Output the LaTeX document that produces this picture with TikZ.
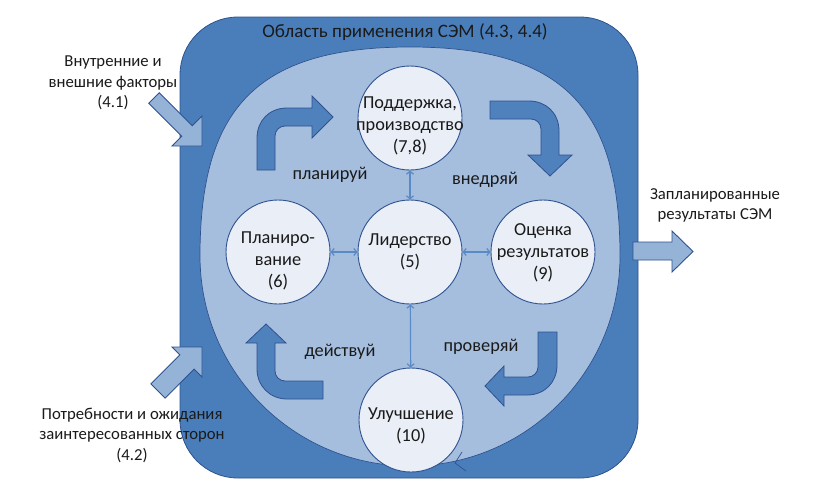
\documentclass[tikz,border=0pt]{standalone}
\usepackage{fontspec}
\setmainfont{Carlito}
\usetikzlibrary{arrows.meta}
\definecolor{boxblue}{HTML}{4A7EBB}
\definecolor{lineblue}{HTML}{2F528F}
\definecolor{innerblue}{HTML}{A5BEDE}
\definecolor{circfill}{HTML}{E9EEF7}
\definecolor{bentblue}{HTML}{4F81BD}
\definecolor{inblue}{HTML}{95B3D7}
\definecolor{dblblue}{HTML}{5A8AC6}
\definecolor{txt}{HTML}{1A1A1A}
\tikzset{
  outerbox/.style={fill=boxblue, draw=lineblue, line width=0.8pt},
  innerreg/.style={fill=innerblue, draw=lineblue, line width=0.7pt},
  bentarrow/.style={fill=bentblue, draw=lineblue, line width=0.8pt},
  inarrow/.style={fill=inblue, draw=lineblue, line width=0.9pt},
  stage/.style={circle, minimum size=104pt, inner sep=0pt, fill=circfill, draw=lineblue, line width=0.9pt},
  ctext/.style={font=\fontsize{18.3}{22}\selectfont, text=txt, align=center, inner sep=0pt},
  lbl/.style={font=\fontsize{16.7}{20.5}\selectfont, text=txt, align=center, inner sep=0pt},
  steplbl/.style={font=\fontsize{18.3}{22}\selectfont, text=txt, align=center, inner sep=0pt},
  titlelbl/.style={font=\fontsize{19}{22}\selectfont, text=txt, align=center, inner sep=0pt},
  dbl/.style={draw=dblblue, line width=1.2pt, {Straight Barb[length=3pt,width=7pt]}-{Straight Barb[length=3pt,width=7pt]}}
}
\begin{document}
\begin{tikzpicture}[x=1pt,y=-1pt]
\useasboundingbox (0,0) rectangle (826,493);
\fill[white] (0,0) rectangle (826,493);
% outer rounded box
\draw[outerbox, rounded corners=58pt] (180,17) rectangle (638,478);
% inner light region
\draw[innerreg] (200,256) .. controls (200,110) and (255,47) .. (410,47)
  .. controls (565,47) and (620,110) .. (620,256)
  arc[start angle=0, end angle=180, radius=210] -- cycle;
\draw[lineblue, line width=0.7pt] (462,452) -- (455,463) -- (466,471);
% input arrows
\draw[inarrow] (148.7,103.3) -- (159.3,92.7) -- (192.3,125.7) -- (202,116) -- (202,146) -- (172,146) -- (181.7,136.3) -- cycle;
\draw[inarrow] (150.9,383.9) -- (179.9,354.9) -- (172,347) -- (202,347) -- (202,377) -- (194.1,369.1) -- (165.1,398.1) -- cycle;
% output arrow
\draw[inarrow] (633,242) -- (672,242) -- (672,231) -- (693,251.5) -- (672,272) -- (672,260) -- (633,260) -- cycle;
% bent arrows
\draw[bentarrow] (257,170) -- (257,138) .. controls (257,121) and (269,108) .. (287,108) -- (312,108) -- (312,96) -- (333,117) -- (312,138) -- (312,126) -- (285,126) .. controls (279.5,126) and (275,130.5) .. (275,136) -- (275,170) -- cycle;
\draw[bentarrow] (490,101) -- (529,101) .. controls (546,101) and (559,113) .. (559,131) -- (559,155) -- (572,155) -- (550,176) -- (528,155) -- (541,155) -- (541,129) .. controls (541,123.5) and (536.5,119) .. (531,119) -- (490,119) -- cycle;
\draw[bentarrow] (538,332) -- (557,332) -- (557,365) .. controls (557,382) and (545,395) .. (527,395) -- (504,395) -- (504,406) -- (485,386) -- (504,366) -- (504,377) -- (528,377) .. controls (533.5,377) and (538,372.5) .. (538,367) -- cycle;
\draw[bentarrow] (323,399) -- (287,399) .. controls (270,399) and (257,386) .. (257,369) -- (257,343) -- (246,343) -- (266,324) -- (286,343) -- (275,343) -- (275,371) .. controls (275,376.5) and (279.5,381) .. (285,381) -- (323,381) -- cycle;
% stage circles
\node[stage] (sup) at (410,118) {};
\node[stage] (plan) at (278,252) {};
\node[stage] (lead) at (410,252) {};
\node[stage] (eval) at (543,252) {};
\node[stage] (impr) at (411,420) {};
% double arrows
\draw[dbl] (sup) -- (lead);
\draw[dbl] (plan) -- (lead);
\draw[dbl] (lead) -- (eval);
\draw[dbl] (lead) -- (impr);
% circle texts
\node[ctext] (supt) at (410,125.5) {Поддержка,\\производство\\(7,8)};
\node[ctext] (plant) at (278,261) {Планиро-\\вание\\(6)};
\node[ctext] (leadt) at (410,252) {Лидерство\\(5)};
\node[ctext] (evalt) at (543,252.5) {Оценка\\результатов\\(9)};
\node[ctext] (imprt) at (411,426) {Улучшение\\(10)};
% labels
\node[titlelbl] (title) at (405,32) {Область применения СЭМ (4.3, 4.4)};
\node[steplbl] (plnl) at (330,175) {планируй};
\node[steplbl] (impl) at (485,180) {внедряй};
\node[steplbl] (actl) at (340,352) {действуй};
\node[steplbl] (chkl) at (481,347) {проверяй};
\node[lbl] (ext1) at (113,83) {Внутренние и\\внешние факторы\\(4.1)};
\node[lbl] (ext2) at (132,435) {Потребности и ожидания\\заинтересованных сторон\\(4.2)};
\node[lbl] (outl) at (715,205.5) {Запланированные\\результаты СЭМ};
\end{tikzpicture}
\end{document}
